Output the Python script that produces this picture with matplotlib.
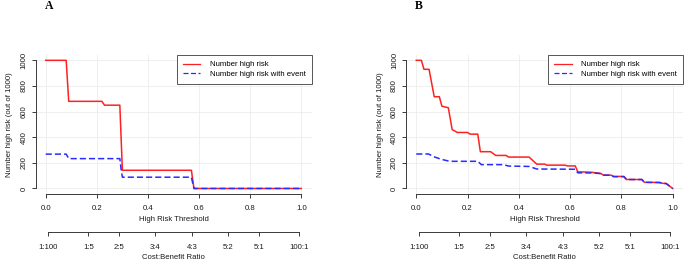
import matplotlib
matplotlib.use("Agg")
import matplotlib.pyplot as plt

plt.rcParams['font.family'] = ['Liberation Sans', 'DejaVu Sans']

# ---- data ----
a_x_risk = [0, 0.08, 0.09, 0.22, 0.23, 0.29, 0.30, 0.57, 0.58, 1.0]
a_y_risk = [1000, 1000, 680, 680, 650, 650, 142, 142, 0, 0]
a_x_event = [0, 0.08, 0.09, 0.29, 0.295, 0.30, 0.57, 0.58, 1.0]
a_y_event = [268, 268, 233, 233, 150, 88, 88, 0, 0]

b_x_risk = [0, 0.02, 0.03, 0.05, 0.07, 0.09, 0.10, 0.125, 0.14, 0.16, 0.20, 0.21,
            0.24, 0.25, 0.29, 0.31, 0.35, 0.36, 0.44, 0.47, 0.50, 0.51, 0.58, 0.59,
            0.62, 0.63, 0.68, 0.71, 0.72, 0.73, 0.76, 0.77, 0.81, 0.82, 0.88, 0.89,
            0.95, 0.96, 0.975, 1.0]
b_y_risk = [1000, 1000, 930, 930, 716, 716, 642, 630, 460, 437, 437, 424,
            424, 287, 287, 258, 258, 245, 245, 190, 190, 182, 182, 176,
            176, 130, 127, 120, 117, 104, 104, 94, 94, 70, 70, 48,
            47, 40, 39, 0]
b_x_event = [0, 0.048, 0.071, 0.097, 0.13, 0.24, 0.254, 0.34, 0.36, 0.44, 0.47,
             0.62, 0.63, 0.68, 0.71, 0.72, 0.73, 0.76, 0.77, 0.81, 0.82, 0.88,
             0.89, 0.95, 0.96, 0.975, 1.0]
b_y_event = [269, 269, 246, 228, 212, 212, 186, 186, 175, 172, 152,
             150, 122, 121, 118, 115, 104, 104, 92, 92, 70, 70,
             48, 46, 40, 38, 0]

x_ticks = [0.0, 0.2, 0.4, 0.6, 0.8, 1.0]
x_ticklabels = ['0.0', '0.2', '0.4', '0.6', '0.8', '1.0']
y_ticks = [0, 200, 400, 600, 800, 1000]
cb_cost = [1, 1, 2, 3, 4, 5, 5, 100]
cb_benefit = [100, 5, 5, 4, 3, 2, 1, 1]
cb_labels = ['1:100', '1:5', '2:5', '3:4', '4:3', '5:2', '5:1', '100:1']
legend_labels = ['Number high risk', 'Number high risk with event']
panel_labels = ['A', 'B']

W, H = 685, 261
fig = plt.figure(figsize=(W / 100, H / 100), dpi=100)

FS = 5.6
AX = '#3a3a3a'
TXT = '#1a1a1a'
TL = 2.9

panels = [
    dict(left=35.5, right=311.5, x1=a_x_risk, y1=a_y_risk, x2=a_x_event, y2=a_y_event,
         lab=panel_labels[0]),
    dict(left=406.0, right=682.9, x1=b_x_risk, y1=b_y_risk, x2=b_x_event, y2=b_y_event,
         lab=panel_labels[1]),
]
top_px, bot_px = 55.2, 193.6
cb_px = 232.3

for p in panels:
    l = p['left'] / W
    w = (p['right'] - p['left']) / W
    b = 1 - bot_px / H
    h = (bot_px - top_px) / H
    ax = fig.add_axes([l, b, w, h])
    ax.set_xlim(-0.04, 1.04)
    ax.set_ylim(-40, 1040)
    ax.grid(True, color='#ececec', linewidth=0.6)
    ax.set_axisbelow(True)
    ax.plot(p['x1'], p['y1'], color='#ff2020', lw=1.1, label=legend_labels[0], zorder=3)
    ax.plot(p['x2'], p['y2'], color='#2a2aff', lw=1.1, dashes=(4, 2),
            label=legend_labels[1], zorder=4)
    for s in ['top', 'right']:
        ax.spines[s].set_visible(False)
    ax.spines['left'].set_bounds(0, 1000)
    ax.spines['bottom'].set_bounds(0, 1)
    for s in ['left', 'bottom']:
        ax.spines[s].set_color(AX)
        ax.spines[s].set_linewidth(0.7)
    ax.set_xticks(x_ticks)
    ax.set_xticklabels(x_ticklabels)
    ax.set_yticks(y_ticks)
    ax.set_yticklabels([str(v) for v in y_ticks], rotation=90, va='center')
    ax.tick_params(axis='both', length=TL, width=0.7, color=AX, labelsize=FS,
                   labelcolor=TXT)
    ax.tick_params(axis='x', pad=5.2)
    ax.tick_params(axis='y', pad=2.9)
    ax.set_xlabel('High Risk Threshold', fontsize=FS, color=TXT, labelpad=3.2)
    ax.set_ylabel('Number high risk (out of 1000)', fontsize=FS, color=TXT, labelpad=5)
    leg = ax.legend(loc='upper right', bbox_to_anchor=(1.0, 1.0), borderaxespad=0,
                    fontsize=FS, frameon=True, fancybox=False, framealpha=1,
                    edgecolor='#555555', handlelength=2.3, handletextpad=1.2,
                    labelspacing=0.25, borderpad=0.75)
    leg.get_frame().set_linewidth(0.7)
    for hnd in leg.get_lines():
        hnd.set_linewidth(0.9)

    # cost:benefit axis
    ax2 = fig.add_axes([l, 1 - cb_px / H, w, 0.001])
    ax2.set_xlim(-0.04, 1.04)
    ax2.patch.set_visible(False)
    for s in ['top', 'right', 'left']:
        ax2.spines[s].set_visible(False)
    cb_t = [c / (c + bb) for c, bb in zip(cb_cost, cb_benefit)]
    ax2.spines['bottom'].set_bounds(cb_t[0], cb_t[-1])
    ax2.spines['bottom'].set_color(AX)
    ax2.spines['bottom'].set_linewidth(0.7)
    ax2.set_yticks([])
    ax2.set_xticks(cb_t)
    ax2.set_xticklabels(cb_labels)
    ax2.tick_params(axis='x', length=TL, width=0.7, color=AX, labelsize=FS,
                    labelcolor=TXT, pad=5.2)
    ax2.set_xlabel('Cost:Benefit Ratio', fontsize=FS, color=TXT, labelpad=2.8)

    fig.text((p['left'] + 13.2) / W, 1 - 6 / H, p['lab'], fontsize=8.5,
             fontweight='bold', family=['Liberation Serif', 'DejaVu Serif'],
             ha='center', va='center')

fig.savefig('out.png', dpi=100)
